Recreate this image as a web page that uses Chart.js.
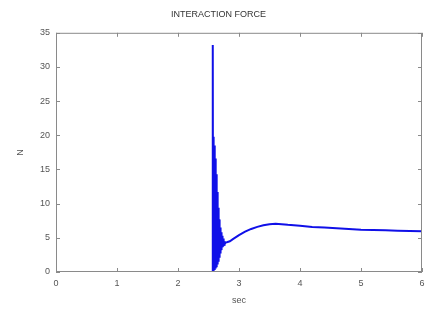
<!DOCTYPE html>
<html><head><meta charset="utf-8">
<script src="https://cdn.jsdelivr.net/npm/chart.js@4/dist/chart.umd.min.js"></script>
<style>html,body{margin:0;padding:0;background:#fff}#wrap{width:425px;height:310px}</style>
</head><body><div id="wrap"><canvas id="c" width="425" height="310"></canvas></div>
<script>
const timeSec = [0, 0.5, 1.0, 1.5, 2.0, 2.5, 2.55, 2.565,
  2.570, 2.574, 2.578, 2.582, 2.586, 2.590, 2.594, 2.598, 2.602, 2.606,
  2.610, 2.614, 2.618, 2.622, 2.626, 2.630, 2.634, 2.638, 2.642, 2.646,
  2.650, 2.654, 2.658, 2.662, 2.666, 2.670, 2.674, 2.678, 2.682, 2.686,
  2.690, 2.694, 2.698, 2.702, 2.706, 2.710, 2.714, 2.718, 2.722, 2.726,
  2.730, 2.734, 2.738, 2.742, 2.746, 2.750, 2.754, 2.758, 2.762, 2.766,
  2.78, 2.80, 2.85, 2.9, 3.0, 3.1, 3.2, 3.3, 3.4, 3.5, 3.6, 3.7, 3.8,
  4.0, 4.2, 4.4, 4.6, 4.8, 5.0, 5.2, 5.4, 5.6, 5.8, 6.0];
const forceN = [0, 0, 0, 0, 0, 0, 0, 0,
  33.2, 0.0, 19.8, 0.1, 19.2, 0.2, 18.5, 0.3, 17.6, 0.4,
  16.6, 0.5, 15.5, 0.6, 14.3, 0.7, 13.0, 0.9, 11.7, 1.1,
  10.5, 1.3, 9.4, 1.5, 8.5, 1.8, 7.7, 2.1, 7.0, 2.4,
  6.5, 2.7, 6.1, 3.0, 5.8, 3.2, 5.5, 3.4, 5.3, 3.6,
  5.1, 3.7, 4.9, 3.8, 4.7, 3.9, 4.6, 4.0, 4.5, 4.1,
  4.3, 4.35, 4.5, 4.8, 5.4, 5.9, 6.3, 6.6, 6.85, 7.0, 7.05, 7.0, 6.9,
  6.75, 6.6, 6.5, 6.4, 6.3, 6.2, 6.15, 6.1, 6.05, 6.0, 5.95];
const yTicks = [0, 5, 10, 15, 20, 25, 30, 35];
const xTicks = [0, 1, 2, 3, 4, 5, 6];

const pts = timeSec.map((t, i) => ({x: t, y: forceN[i]}));
const axisColor = '#8a8a8a';
const fontFam = 'Liberation Sans';

const boxPlugin = {
  id: 'box',
  afterDraw(chart) {
    const {ctx, chartArea: a, scales} = chart;
    ctx.save();
    ctx.strokeStyle = axisColor;
    ctx.lineWidth = 1;
    ctx.strokeRect(a.left + 0.5, a.top + 0.5, a.right - a.left - 1, a.bottom - a.top - 1);
    ctx.beginPath();
    xTicks.forEach(v => {
      const px = Math.round(scales.x.getPixelForValue(v)) + 0.5;
      ctx.moveTo(px, a.bottom); ctx.lineTo(px, a.bottom - 4);
      ctx.moveTo(px, a.top); ctx.lineTo(px, a.top + 4);
    });
    yTicks.forEach(v => {
      const py = Math.round(scales.y.getPixelForValue(v)) + 0.5;
      ctx.moveTo(a.left, py); ctx.lineTo(a.left + 4, py);
      ctx.moveTo(a.right, py); ctx.lineTo(a.right - 4, py);
    });
    ctx.stroke();
    ctx.restore();
  }
};

new Chart(document.getElementById('c'), {
  type: 'line',
  data: { datasets: [{
    data: pts,
    borderColor: '#1010e8',
    borderWidth: 2,
    pointRadius: 0,
    tension: 0,
    fill: false
  }]},
  options: {
    responsive: false,
    animation: false,
    events: [],
    layout: { padding: { left: 15, right: 3, top: 0, bottom: 0 } },
    plugins: {
      legend: { display: false },
      tooltip: { enabled: false },
      title: {
        display: true,
        text: 'INTERACTION FORCE',
        color: '#333',
        font: { family: fontFam, size: 9, weight: 'normal' },
        padding: { top: 9, bottom: 13 }
      }
    },
    scales: {
      x: {
        type: 'linear', min: 0, max: 6,
        afterBuildTicks: s => { s.ticks = xTicks.map(v => ({value: v})); },
        afterFit: s => { s.height = 38; s.paddingRight = 0; s.paddingLeft = 0; },
        grid: { display: false, drawTicks: false },
        border: { display: false },
        ticks: { color: '#555', padding: 6, font: { family: fontFam, size: 9 }, maxRotation: 0 },
        title: { display: true, text: 'sec', color: '#555', font: { family: fontFam, size: 9 }, padding: { top: 0, bottom: 4 } }
      },
      y: {
        type: 'linear', min: 0, max: 35,
        afterBuildTicks: s => { s.ticks = yTicks.map(v => ({value: v})); },
        afterFit: s => { s.width = 41; s.paddingTop = 0; s.paddingBottom = 0; },
        grid: { display: false, drawTicks: false },
        border: { display: false },
        ticks: { color: '#555', padding: 6, font: { family: fontFam, size: 9 } },
        title: { display: true, text: 'N', color: '#555', font: { family: fontFam, size: 9 }, padding: { top: 0, bottom: 0 } }
      }
    }
  },
  plugins: [boxPlugin]
});
</script></body></html>
